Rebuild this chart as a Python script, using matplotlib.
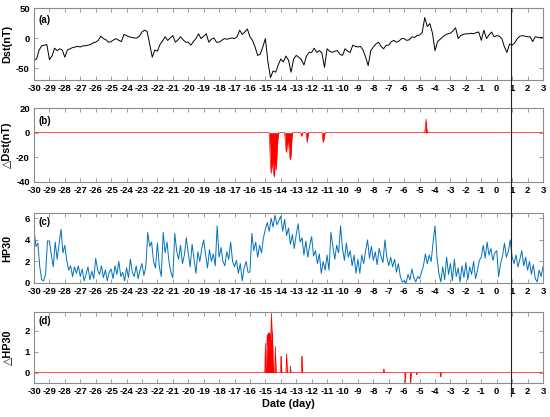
#!/usr/bin/env python3
"""Dst / HP30 superposed-epoch panels with the storm-time anomalies."""

import matplotlib
matplotlib.use("Agg")
import matplotlib.pyplot as plt
import numpy as np
from matplotlib.lines import Line2D
from matplotlib.transforms import blended_transform_factory

# Dst (nT), 4-hourly samples starting at day -30, one row per day
DST_ROWS = [
    [-37, -35, -20, -13, -12, -11],  # -30
    [-36, -30, -17, -21, -18, -20],  # -29
    [-32, -20, -18, -16, -15, -14],  # -28
    [-15, -13, -13, -12, -11, -8],   # -27
    [-7, -4, 3, -1, -3, -7],         # -26
    [-6, -3, -1, -4, -6, 6],         # -25
    [4, 2, 1, 0, 0, 3],              # -24
    [10, 13, 11, -10, -32, -20],     # -23
    [-22, -11, -5, 2, -4, 0],        # -22
    [4, -7, -3, 2, -3, -7],          # -21
    [-7, -12, -6, -1, 7, -1],        # -20
    [3, 7, -7, -2, 0, -7],           # -19
    [-7, -4, -1, -2, -1, 0],         # -18
    [-1, 2, 13, 6, 10, 15],          # -17
    [2, -4, -15, -29, -27, -15],     # -16
    [-1, -40, -66, -55, -57, -45],   # -15
    [-35, -40, -30, -37, -57, -35],  # -14
    [-29, -32, -36, -45, -30, -24],  # -13
    [-24, -17, -24, -21, -25, -49],  # -12
    [-18, -22, -24, -22, -21, -27],  # -11
    [-29, -18, -22, -24, -12, -14],  # -10
    [-15, -14, -20, -32, -46, -21],  # -9
    [-15, -10, -7, -14, -18, -12],   # -8
    [-12, -6, -4, -7, -5, -1],       # -7
    [-1, -4, -3, 2, 1, 4],           # -6
    [5, 9, 34, 19, 24, 8],           # -5
    [-21, -6, -2, 2, 5, 7],          # -4
    [8, 12, 17, -1, 4, 6],           # -3
    [7, 7, 8, 7, 9, 10],             # -2
    [-4, 13, -1, 5, 10, 2],          # -1
    [4, 3, -1, -15, -24, -10],       # 0
    [-12, -8, -1, 3, 4, 3],          # 1
    [2, 2, -6, 2, 1, 1],             # 2
    [1],                             # 3
]
DST_PER_DAY = 6

# HP30, 3-hourly samples starting at day -30, one row per day
HP_ROWS = [
    [5.0, 3.4, 3.7, 1.5, 0.3, 0.2, 0.8, 3.9],  # -30
    [3.9, 2.6, 1.5, 3.8, 2.2, 3.6, 5.0, 2.8],  # -29
    [3.5, 2.1, 1.2, 1.6, 0.6, 1.5, 0.9, 1.6],  # -28
    [0.6, 1.3, 0.2, 0.8, 1.5, 0.3, 1.1, 0.4],  # -27
    [2.3, 1.2, 0.8, 1.6, 0.5, 1.2, 0.2, 1.0],  # -26
    [1.3, 0.4, 1.6, 0.8, 2.0, 0.6, 1.0, 0.2],  # -25
    [1.4, 0.5, 2.2, 1.0, 0.6, 1.6, 0.4, 1.2],  # -24
    [1.8, 0.7, 1.5, 4.7, 3.4, 3.8, 2.0, 1.4],  # -23
    [3.7, 1.5, 0.6, 4.7, 2.8, 3.8, 2.0, 1.0],  # -22
    [0.5, 4.6, 3.0, 2.2, 3.5, 1.8, 2.6, 4.2],  # -21
    [2.8, 1.5, 3.6, 2.2, 0.9, 2.9, 2.0, 3.2],  # -20
    [4.0, 2.6, 1.4, 3.1, 2.0, 2.7, 1.6, 5.3],  # -19
    [2.4, 3.3, 2.0, 1.6, 2.9, 2.2, 3.8, 2.0],  # -18
    [1.5, 2.1, 0.9, 1.8, 0.2, 1.4, 2.0, 1.0],  # -17
    [1.0, 4.6, 3.0, 3.8, 2.4, 3.5, 2.8, 4.2],  # -16
    [5.0, 5.6, 4.8, 6.0, 5.2, 6.3, 5.4, 5.8],  # -15
    [6.2, 4.8, 5.9, 4.4, 5.1, 3.6, 4.5, 3.2],  # -14
    [4.5, 5.5, 3.8, 4.2, 2.6, 3.9, 2.4, 3.5],  # -13
    [4.3, 2.5, 3.0, 1.8, 2.7, 0.9, 2.0, 1.2],  # -12
    [2.6, 1.2, 4.7, 3.4, 2.2, 3.5, 2.8, 5.3],  # -11
    [3.2, 2.1, 3.7, 2.4, 3.0, 1.6, 2.6, 0.9],  # -10
    [2.2, 0.9, 2.6, 1.8, 3.0, 4.0, 2.3, 3.4],  # -9
    [2.1, 2.9, 1.7, 3.2, 2.5, 1.9, 4.0, 2.4],  # -8
    [1.6, 2.4, 1.5, 2.2, 1.0, 1.8, 0.6, 0.1],  # -7
    [0.2, 0.0, 0.8, 0.3, 1.3, 0.5, 0.1, 0.6],  # -6
    [0.4, 1.0, 1.6, 2.7, 1.8, 2.6, 2.0, 3.8],  # -5
    [5.3, 2.4, 0.9, 0.1, 1.5, 0.3, 2.4, 0.8],  # -4
    [1.8, 0.2, 2.2, 0.6, 1.4, 0.1, 1.6, 0.5],  # -3
    [1.9, 0.3, 1.5, 0.8, 2.0, 0.4, 1.2, 2.1],  # -2
    [2.4, 3.5, 2.3, 3.8, 2.6, 3.2, 2.1, 2.8],  # -1
    [3.0, 0.6, 1.8, 2.5, 3.7, 2.4, 2.9, 4.0],  # 0
    [2.4, 1.8, 2.6, 1.5, 2.2, 3.0, 1.6, 2.4],  # 1
    [1.2, 2.0, 0.8, 1.7, 0.4, 0.1, 1.2, 0.6],  # 2
    [1.5],                                     # 3
]
HP_PER_DAY = 8

# Delta Dst (nT): hourly anomaly bursts, (start day, hourly values)
DDST_BURSTS = [
    (-14.75, [0, -12, -26, -33, -30, -22, -28, -34, -36, -28, -20, -30, -18, -8, -3, 0]),
    (-13.75, [0, -6, -14, -16, -10, -7, -9, -14, -20, -22, -18, -8, 0]),
    (-12.70, [0, -3, -2, 0]),
    (-12.38, [0, -3, -8, -4, 0]),
    (-11.35, [0, -4, -8, -6, -2, 0]),
    (-4.65, [0, 6, 11, 4, 0]),
]

# Delta HP30: half-hourly anomaly bursts, (start day, values)
DHP_BURSTS = [
    (-15.05, [0, 0.6, 1.4, 0.5, 0, 0.3, 0.9, 1.5, 1.8, 1.3, 1.6, 1.9, 1.7, 1.2,
              1.8, 1.9, 1.5, 1.8, 1.4, 1.9, 2.3, 2.85, 2.2, 1.8, 1.9, 1.2, 0.6, 0.2, 0]),
    (-14.40, [0, 0.6, 1.25, 0.7, 0.2, 0]),
    (-14.03, [0, 0.5, 0.78, 0.4, 0]),
    (-13.66, [0, 0.4, 0.9, 0.5, 0.1, 0]),
    (-13.40, [0, 0.3, 0.1, 0]),
    (-12.66, [0, 0.5, 0.78, 0.2, 0]),
    (-7.33, [0, 0.17, 0]),
    (-5.96, [0, -0.55, -0.3, 0]),
    (-5.60, [0, -0.55, -0.2, 0]),
    (-5.20, [0, -0.1, 0]),
    (-3.64, [0, -0.2, 0]),
]

DAY0, DAY1 = -30, 3
ONSET_DAY = 0.9

FRAME = "#8c8c8c"
BLUE = "#0072BD"
FONT = ["Liberation Sans", "DejaVu Sans"]


def burst_series(bursts, per_day):
    t = DAY0 + np.arange((DAY1 - DAY0) * per_day + 1) / per_day
    y = np.zeros_like(t)
    for start, vals in bursts:
        i0 = int(round((start - DAY0) * per_day))
        y[i0:i0 + len(vals)] = vals
    return t, y


def style(ax, yticks, ylim, ylabel, tag, tag_y):
    ax.set_xlim(DAY0, DAY1)
    ax.set_ylim(*ylim)
    ax.set_xticks(range(DAY0, DAY1 + 1))
    ax.set_yticks(yticks)
    ax.tick_params(direction="in", top=True, right=True, length=3,
                   width=0.6, color=FRAME, labelsize=6.8, pad=3)
    for lab in ax.get_xticklabels() + ax.get_yticklabels():
        lab.set_fontweight("bold")
    for sp in ax.spines.values():
        sp.set_color(FRAME)
        sp.set_linewidth(0.8)
    ax.set_ylabel(ylabel, fontsize=7.8, fontweight="bold", family=FONT)
    ax.yaxis.set_label_coords(-0.043, 0.5)
    ax.text(0.008, tag_y, tag, transform=ax.transAxes, fontsize=7,
            fontweight="bold", va="center", ha="left")


def main():
    plt.rcParams["font.family"] = FONT
    plt.rcParams["axes.unicode_minus"] = False

    dst = np.concatenate([np.asarray(r, float) for r in DST_ROWS])
    t_dst = DAY0 + np.arange(dst.size) / DST_PER_DAY
    hp = np.concatenate([np.asarray(r, float) for r in HP_ROWS])
    t_hp = DAY0 + np.arange(hp.size) / HP_PER_DAY
    t_ddst, ddst = burst_series(DDST_BURSTS, 24)
    t_dhp, dhp = burst_series(DHP_BURSTS, 48)

    fig = plt.figure(figsize=(5.5, 4.17), dpi=100)
    left, width = 34 / 550, 509 / 550
    H = 417
    ax_a = fig.add_axes([left, 1 - 80 / H, width, 72 / H])
    ax_b = fig.add_axes([left, 1 - 182 / H, width, 74 / H])
    ax_c = fig.add_axes([left, 1 - 283 / H, width, 70 / H])
    ax_d = fig.add_axes([left, 1 - 383 / H, width, 71 / H])

    ax_a.plot(t_dst, dst, color="black", lw=0.7)
    style(ax_a, [-50, 0, 50], (-70, 50), "Dst(nT)", "(a)", 0.83)

    ax_b.fill_between(t_ddst, 0, ddst, color="red", lw=0)
    ax_b.plot(t_ddst, ddst, color="red", lw=0.5)
    style(ax_b, [-40, -20, 0, 20], (-40, 20), "\u25b3Dst(nT)", "(b)", 0.83)

    ax_c.plot(t_hp, hp, color=BLUE, lw=0.7)
    style(ax_c, [0, 2, 4, 6], (0, 6.5), "HP30", "(c)", 0.87)

    ax_d.fill_between(t_dhp, 0, dhp, color="red", lw=0)
    ax_d.plot(t_dhp, dhp, color="red", lw=0.5)
    style(ax_d, [0, 1, 2], (-0.5, 2.9), "\u25b3HP30", "(d)", 0.87)
    ax_d.set_xlabel("Date (day)", fontsize=7.8, fontweight="bold", labelpad=2)

    trans = blended_transform_factory(ax_d.transData, fig.transFigure)
    fig.add_artist(Line2D([ONSET_DAY, ONSET_DAY], [1 - 8 / H, 1 - 396 / H],
                          transform=trans, color="#222222", lw=0.8))

    fig.savefig("out.png", dpi=100)
    plt.close(fig)


if __name__ == "__main__":
    main()
